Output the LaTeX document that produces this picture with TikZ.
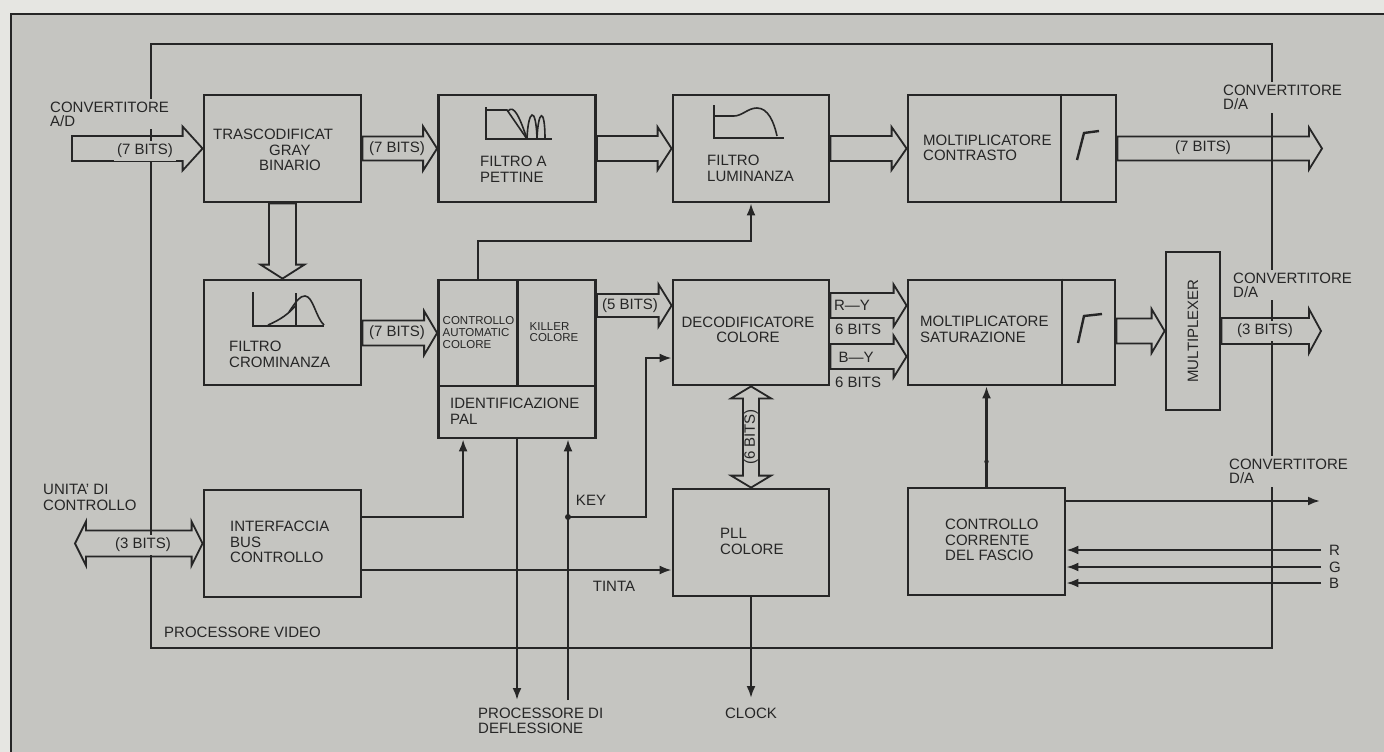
\documentclass[tikz,border=0pt]{standalone}
\usepackage{fontspec}
\setmainfont{Liberation Sans}
\usetikzlibrary{calc,arrows.meta}
\definecolor{bg}{RGB}{197,197,193}
\definecolor{outbg}{RGB}{230,230,226}
\definecolor{ln}{RGB}{38,38,38}
\tikzset{
 box/.style={draw=ln, line width=2.8pt, fill=bg, inner sep=0pt},
 conn/.style={draw=ln, line width=2.2pt},
 frm/.style={draw=ln, line width=2pt},
 fat/.style={draw=ln, fill=bg, line width=1.8pt, line join=miter},
 tip/.style={-{Latex[length=12pt,width=9pt]}},
 lbl/.style={font=\fontsize{15}{15.5}\selectfont, text=ln, inner sep=1pt, align=left},
 sml/.style={font=\fontsize{11.5}{11.8}\selectfont, text=ln, inner sep=0.5pt, align=left},
 cover/.style={fill=bg, inner sep=3pt},
 icon/.style={draw=ln, line width=1.6pt},
}
\newcommand\hfat[5]{\draw[fat] let \p1=(#1), \p2=(#2) in
 (\x1,\y2+#3) -- (\x2-#5,\y2+#3) -- (\x2-#5,\y2+#4) -- (\x2,\y2) -- (\x2-#5,\y2-#4) -- (\x2-#5,\y2-#3) -- (\x1,\y2-#3) -- cycle;}
\newcommand\vfat[5]{\draw[fat] let \p1=(#1), \p2=(#2) in
 (\x2-#3,\y1) -- (\x2-#3,\y2+#5) -- (\x2-#4,\y2+#5) -- (\x2,\y2) -- (\x2+#4,\y2+#5) -- (\x2+#3,\y2+#5) -- (\x2+#3,\y1) -- cycle;}
\newcommand\hdfat[5]{\draw[fat] let \p1=(#1), \p2=(#2) in
 (\x1,\y2) -- (\x1+#5,\y2+#4) -- (\x1+#5,\y2+#3) -- (\x2-#5,\y2+#3) -- (\x2-#5,\y2+#4) -- (\x2,\y2) -- (\x2-#5,\y2-#4) -- (\x2-#5,\y2-#3) -- (\x1+#5,\y2-#3) -- (\x1+#5,\y2-#4) -- cycle;}
\newcommand\vdfat[5]{\draw[fat] let \p1=(#1), \p2=(#2) in
 (\x2,\y1) -- (\x2+#4,\y1-#5) -- (\x2+#3,\y1-#5) -- (\x2+#3,\y2+#5) -- (\x2+#4,\y2+#5) -- (\x2,\y2) -- (\x2-#4,\y2+#5) -- (\x2-#3,\y2+#5) -- (\x2-#3,\y1-#5) -- (\x2-#4,\y1-#5) -- cycle;}
\begin{document}
\begin{tikzpicture}[x=1pt,y=-1pt]
\useasboundingbox (0,0) rectangle (1384,752);
\fill[outbg] (0,0) rectangle (1384,752);
\fill[bg] (11,14) rectangle (1384,752);
\draw[frm, line width=2.4pt] (1384,14) -- (11,14) -- (11,752);

% ---------- blocks ----------
\node[box, minimum width=157pt, minimum height=107pt] (tras) at (282.5,148.5) {};
\node[box, minimum width=157pt, minimum height=107pt] (pet) at (517,148.5) {};
\node[box, minimum width=156pt, minimum height=107pt] (lum) at (751,148.5) {};
\node[box, minimum width=208pt, minimum height=107pt] (con) at (1012,148.5) {};
\node[box, minimum width=157pt, minimum height=105pt] (crom) at (282.5,332.5) {};
\node[box, minimum width=79pt, minimum height=106pt] (cac) at (478,333) {};
\node[box, minimum width=78pt, minimum height=106pt] (killer) at (556.5,333) {};
\node[box, minimum width=157pt, minimum height=52pt] (idpal) at (517,412) {};
\node[box, minimum width=156pt, minimum height=105pt] (deco) at (751,332.5) {};
\node[box, minimum width=207pt, minimum height=105pt] (sat) at (1011.5,332.5) {};
\node[box, minimum width=54pt, minimum height=158pt] (mux) at (1193,331) {};
\node[box, minimum width=157pt, minimum height=107pt] (intf) at (282.5,543.5) {};
\node[box, minimum width=156pt, minimum height=107pt] (pll) at (751,542.5) {};
\node[box, minimum width=157pt, minimum height=107pt] (cc) at (986.5,541.5) {};
\draw[ln, line width=2.2pt] ($(con.north west)+(154,0)$) -- ($(con.south west)+(154,0)$);
\draw[ln, line width=2.2pt] ($(sat.north west)+(155,0)$) -- ($(sat.south west)+(155,0)$);

% ---------- free ends ----------
\coordinate (adin) at (72,148.5);
\coordinate (daout1) at (1322,148.5);
\coordinate (daout2) at (1321,331);
\coordinate (cuin) at (75,543.5);
\coordinate (pd1) at (517,700);
\coordinate (pd2) at (568,700);
\coordinate (keyj) at (568,517);
\coordinate (ty) at (0,570);
\coordinate (clk) at (751,698);
\coordinate (ccout) at (1320,501);
\coordinate (rin) at (1321,550);
\coordinate (gin) at (1321,567);
\coordinate (bin) at (1321,583);

% ---------- bus arrows ----------
\hfat{adin}{tras.west}{12.5pt}{22pt}{20pt}
\hfat{tras.east}{pet.west}{12pt}{22pt}{14pt}
\hfat{pet.east}{lum.west}{12.5pt}{21.5pt}{14pt}
\hfat{lum.east}{con.west}{12.5pt}{21.5pt}{15pt}
\hfat{con.east}{daout1}{12pt}{21pt}{13pt}
\vfat{tras.south}{crom.north}{13.5pt}{22pt}{14pt}
\hfat{crom.east}{cac.west}{12.5pt}{22pt}{13pt}
\hfat{$(killer.east)+(0,-27)$}{$(deco.west)+(0,-27)$}{11.5pt}{21pt}{13pt}
\hfat{$(deco.east)+(0,-27)$}{$(sat.west)+(0,-27)$}{12.5pt}{21pt}{13pt}
\hfat{$(deco.east)+(0,24)$}{$(sat.west)+(0,24)$}{12.5pt}{21pt}{13pt}
\hfat{sat.east}{mux.west}{12.5pt}{22pt}{13pt}
\hfat{mux.east}{daout2}{13pt}{22pt}{12pt}
\vdfat{deco.south}{pll.north}{8pt}{20pt}{12pt}
\hdfat{cuin}{intf.west}{13pt}{22pt}{11pt}

% ---------- video processor boundary ----------
\draw[frm] (151,44) rectangle (1272,648);

% ---------- signal lines ----------
\draw[conn,tip] (cac.north) -- ++(0,-38) -| (lum.south);
\draw[conn,tip] (intf.east |- keyj) -| ($(idpal.south west)+(26,0)$);
\draw[conn,tip] (idpal.south) -- (pd1);
\draw[conn,tip] (pd2) -- (pd2 |- idpal.south);
\draw[conn,tip] (keyj) -| ($(deco.west)+(-26,25.5)$) -- ($(deco.west)+(0,25.5)$);
\fill[ln] (keyj) circle (3pt);
\draw[conn,tip] (intf.east |- ty) -- (pll.west |- ty);
\draw[conn,tip] (pll.south) -- (clk);
\draw[conn,tip] (cc.north) -- (cc.north |- sat.south);
\fill[ln] ($(cc.north)+(0,-25)$) circle (2.2pt);
\draw[conn,tip] (cc.east |- ccout) -- (ccout);
\draw[conn,tip] (rin) -- (cc.east |- rin);
\draw[conn,tip] (gin) -- (cc.east |- gin);
\draw[conn,tip] (bin) -- (cc.east |- bin);

% ---------- icons ----------
\draw[icon] (486,107) -- (486,139) -- (552,139);
\draw[icon] (486,110) -- (507,110) -- (527,139);
\draw[icon] (508,111) .. controls (514,104) and (520,118) .. (527,139);
\draw[icon] (527,139) .. controls (528,110) and (536,104) .. (537,139);
\draw[icon] (537,139) .. controls (538,110) and (545,106) .. (545,139);
\draw[icon] (714,105) -- (714,138) -- (784,138);
\draw[icon] (714,116) -- (734,116) .. controls (742,116) and (748,108) .. (757,108) .. controls (768,108) and (774,122) .. (777,136);
\draw[icon] (253,292) -- (253,326) -- (324,326);
\draw[icon] (296,293) -- (296,326);
\draw[icon] (268,325) .. controls (280,320) and (290,313) .. (296,305);
\draw[icon] (289,312) .. controls (297,300) and (300,296) .. (305,296) .. controls (313,296) and (316,318) .. (324,325);
\draw[icon, line width=2.4pt] (1077,160) -- (1084,133) -- (1099,131);
\draw[icon, line width=2.4pt] (1078,343) -- (1084,316) -- (1102,314);

% ---------- texts ----------
\node[lbl, cover, anchor=west, font=\fontsize{15}{14}\selectfont] (tadin) at (47,114) {CONVERTITORE\\A/D};
\node[lbl, anchor=west] (ttras) at (212,150) {TRASCODIFICAT\\\hspace*{56pt}GRAY\\\hspace*{46pt}BINARIO};
\node[lbl, cover] (b7a) at (145,151) {(7 BITS)};
\node[lbl] (b7b) at (397,149) {(7 BITS)};
\node[lbl, anchor=west] (tpet) at (479,169.5) {FILTRO A\\PETTINE};
\node[lbl, anchor=west] (tlum) at (706,168.5) {FILTRO\\LUMINANZA};
\node[lbl, anchor=west] (tcon) at (922,148) {MOLTIPLICATORE\\CONTRASTO};
\node[lbl] (b7c) at (1203,148) {(7 BITS)};
\node[lbl, cover, anchor=west, font=\fontsize{15}{14}\selectfont] (tda1) at (1220,97.5) {CONVERTITORE\\D/A};
\node[lbl, anchor=west] (tcrom) at (228,354.5) {FILTRO\\CROMINANZA};
\node[lbl] (b7d) at (397,333) {(7 BITS)};
\node[sml, anchor=west] (tcac) at (442,332.5) {CONTROLLO\\AUTOMATIC\\COLORE};
\node[sml, anchor=west] (tkil) at (529,332) {KILLER\\COLORE};
\node[lbl, anchor=west, font=\fontsize{15}{16}\selectfont] (tpal) at (449,411) {IDENTIFICAZIONE\\PAL};
\node[lbl] (b5) at (630,306) {(5 BITS)};
\node[lbl, align=center] (tdeco) at (748,330) {DECODIFICATORE\\COLORE};
\node[lbl] (try) at (852,305) {R—Y};
\node[lbl, anchor=west] (t6a) at (834,329) {6 BITS};
\node[lbl] (tby) at (856,357) {B—Y};
\node[lbl, anchor=west] (t6b) at (834,382) {6 BITS};
\node[lbl, anchor=west] (tsat) at (919,329.5) {MOLTIPLICATORE\\SATURAZIONE};
\node[lbl, rotate=90] (tmux) at (1193,331) {MULTIPLEXER};
\node[lbl, cover, anchor=west, font=\fontsize{15}{14}\selectfont] (tda2) at (1230,285) {CONVERTITORE\\D/A};
\node[lbl, cover] (b3a) at (1265,331) {(3 BITS)};
\node[lbl, rotate=90] (b6) at (751,437) {(6 BITS)};
\node[lbl, anchor=west] (tcu) at (42,497.5) {UNITA' DI\\CONTROLLO};
\node[lbl, cover] (b3b) at (143,545) {(3 BITS)};
\node[lbl, anchor=west] (tintf) at (229,542) {INTERFACCIA\\BUS\\CONTROLLO};
\node[lbl] (tkey) at (591,500) {KEY};
\node[lbl] (ttinta) at (614,586) {TINTA};
\node[lbl, anchor=west] (tpll) at (719,541.5) {PLL\\COLORE};
\node[lbl, anchor=west] (tcc) at (944,540) {CONTROLLO\\CORRENTE\\DEL FASCIO};
\node[lbl, cover, anchor=west, font=\fontsize{15}{14}\selectfont] (tda3) at (1226,471.5) {CONVERTITORE\\D/A};
\node[lbl, anchor=west] (tr) at (1328,550) {R};
\node[lbl, anchor=west] (tg) at (1328,567) {G};
\node[lbl, anchor=west] (tb) at (1328,583) {B};
\node[lbl, anchor=west] (tpv) at (163,632) {PROCESSORE VIDEO};
\node[lbl, anchor=west] (tpd) at (477,721) {PROCESSORE DI\\DEFLESSIONE};
\node[lbl] (tclk) at (751,713) {CLOCK};
\end{tikzpicture}
\end{document}
